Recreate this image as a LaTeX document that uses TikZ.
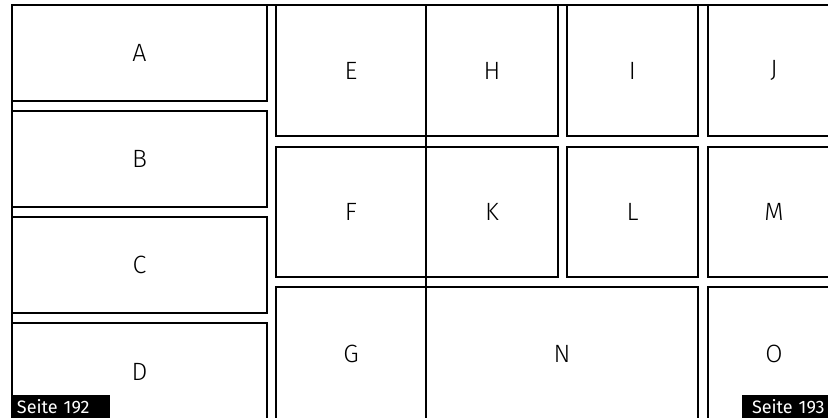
\documentclass[tikz,border=0pt]{standalone}
\usepackage{fontspec}
\setmainfont{Fira Sans}
\newfontfamily\lblfont{Fira Sans Light}
\usetikzlibrary{backgrounds}
\tikzset{
  box/.style={draw=black, line width=1.8pt, inner sep=0pt, outer sep=0pt,
    font=\lblfont\fontsize{25}{25}\selectfont, text=black},
  halo/.style={draw=black!30, line width=3.8pt},
  frame/.style={draw=black, line width=1.8pt},
  pagetag/.style={fill=black, text=white, inner sep=0pt, outer sep=0pt,
    font=\fontsize{18}{18}\selectfont, anchor=south west, minimum height=23pt},
}
% \bx{name}{x1}{y1}{x2}{y2}{label}
\newcommand\bx[6]{%
  \node[box, minimum width={(#4-#2)*1pt}, minimum height={(#5-#3)*1pt}]
    (#1) at ({(#2+#4)/2},{(#3+#5)/2+1}) {#6};}
\begin{document}
\begin{tikzpicture}[x=1pt,y=-1pt]
\useasboundingbox (0,0) rectangle (828,418);
\clip (0,0) rectangle (828,418);
\fill[white] (0,0) rectangle (828,418);
\bx{A}{12}{4}{267}{100}{A}
\bx{B}{12}{110}{267}{206}{B}
\bx{C}{12}{216}{267}{312}{C}
\bx{D}{12}{322}{267}{419}{D}
\bx{E}{276}{4}{426}{135}{E}
\bx{F}{276}{146}{426}{276}{F}
\bx{G}{276}{286}{426}{419}{G}
\bx{H}{426}{4}{558}{135}{H}
\bx{K}{426}{146}{558}{276}{K}
\bx{N}{426}{286}{698}{419}{N}
\bx{I}{567}{4}{698}{135}{I}
\bx{L}{567}{146}{698}{276}{L}
\bx{J}{708}{4}{840}{135}{J}
\bx{M}{708}{146}{840}{276}{M}
\bx{O}{708}{286}{840}{419}{O}
\begin{scope}[on background layer]
  \foreach \n in {A,B,C,D,E,F,G,H,K,N,I,L,J,M,O}
    \draw[halo] (\n.north west) rectangle (\n.south east);
  \draw[halo] (A.north west) -- (J.north east);
  \draw[halo] (A.north west) -- (D.south west);
  \draw[halo] (H.north west) -- (N.south west);
\end{scope}
\draw[frame] (A.north west) -- (J.north east);
\draw[frame] (A.north west) -- (D.south west);
\draw[frame] (H.north west) -- (N.south west);
\node[pagetag, text width=98pt, align=left] (p192) at (12,418) {\hspace*{5pt}Seite 192\hfill};
\node[pagetag, text width=86pt, align=left] (p193) at (742,418) {\hspace*{10pt}Seite 193\hfill};
\end{tikzpicture}
\end{document}
